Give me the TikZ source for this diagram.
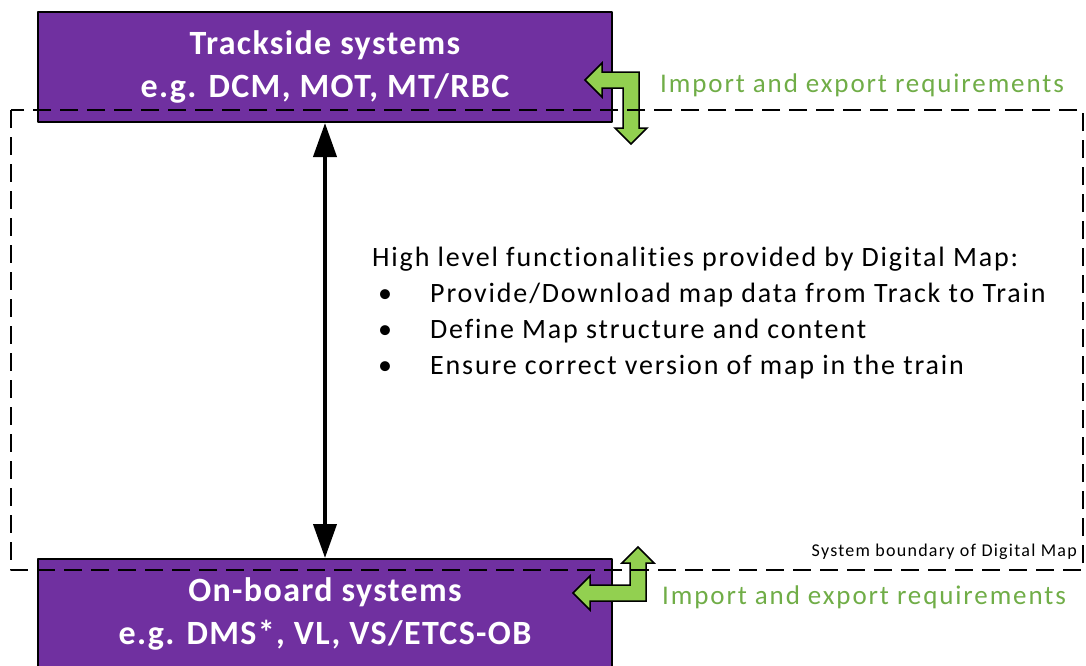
\documentclass[tikz,border=0pt]{standalone}
\usepackage{fontspec}
\setmainfont{Carlito}
\newfontfamily\bodyfont[LetterSpace=6.6,Ligatures=NoCommon]{Carlito}
\newfontfamily\reqfont[LetterSpace=7,Ligatures=NoCommon]{Carlito}
\newfontfamily\titlefont[LetterSpace=4,Ligatures=NoCommon]{Carlito}
\usetikzlibrary{arrows.meta}
\definecolor{mappurple}{HTML}{7030A0}
\definecolor{reqgreen}{HTML}{70AD47}
\definecolor{arrowgreen}{HTML}{92D050}
\tikzset{
  sysbox/.style={draw=black,line width=2pt,fill=mappurple,text=white,
    font=\titlefont\fontsize{34}{43}\selectfont\bfseries,align=center,
    minimum width=574pt,minimum height=110pt,inner sep=0pt},
  reqlabel/.style={text=reqgreen,font=\reqfont\fontsize{27}{32}\selectfont,anchor=west,inner sep=0pt},
  bodytext/.style={font=\bodyfont\fontsize{28}{36}\selectfont,anchor=base west,inner sep=0pt},
  greenarrow/.style={draw=black,line width=1.5pt,fill=arrowgreen,line join=miter},
}
\begin{document}
\begin{tikzpicture}[x=1pt,y=-1pt,line join=round]
  \useasboundingbox (0,0) rectangle (1086,665);
  \node[sysbox] (track) at (325,67) {Trackside systems\\e.g. DCM, MOT, MT/RBC};
  \node[sysbox] (onboard) at (325,614) {On-board systems\\e.g. DMS*, VL, VS/ETCS-OB};
  % map data exchange
  \draw[{Triangle[length=34pt,width=23pt]}-{Triangle[length=34pt,width=23pt]},line width=4pt]
    (track) -- (onboard);
  % import / export arrows
  \draw[greenarrow] (585,80) -- (602,63) -- (602,72) -- (639,72) -- (639,128) -- (647,128)
    -- (631,144) -- (615,128) -- (623,128) -- (623,88) -- (602,88) -- (602,97) -- cycle;
  \draw[greenarrow] (573,593) -- (590,576) -- (590,585) -- (630,585) -- (630,563) -- (622,563)
    -- (638,547) -- (654,563) -- (646,563) -- (646,601) -- (590,601) -- (590,610) -- cycle;
  \node[reqlabel] (reqtop) at (660,85) {Import and export requirements};
  \node[reqlabel] (reqbot) at (662,597) {Import and export requirements};
  % functionalities
  \node[bodytext] (func) at (372,266) {High level functionalities provided by Digital Map:};
  \foreach \t [count=\i] in {Provide/Download map data from Track to Train,
      Define Map structure and content,Ensure correct version of map in the train}{
    \node[bodytext] (dot\i) at (378,266+36*\i) {\textbullet};
    \node[bodytext] (item\i) at (430,266+36*\i) {\t};
  }
  % system boundary
  \draw[dash pattern=on 18pt off 9pt,line width=2pt] (11,110) rectangle (1083,570);
  \node[anchor=base east,font=\reqfont\fontsize{18}{22}\selectfont,inner sep=0pt] (boundary)
    at (1077,556) {System boundary of Digital Map};
\end{tikzpicture}
\end{document}
